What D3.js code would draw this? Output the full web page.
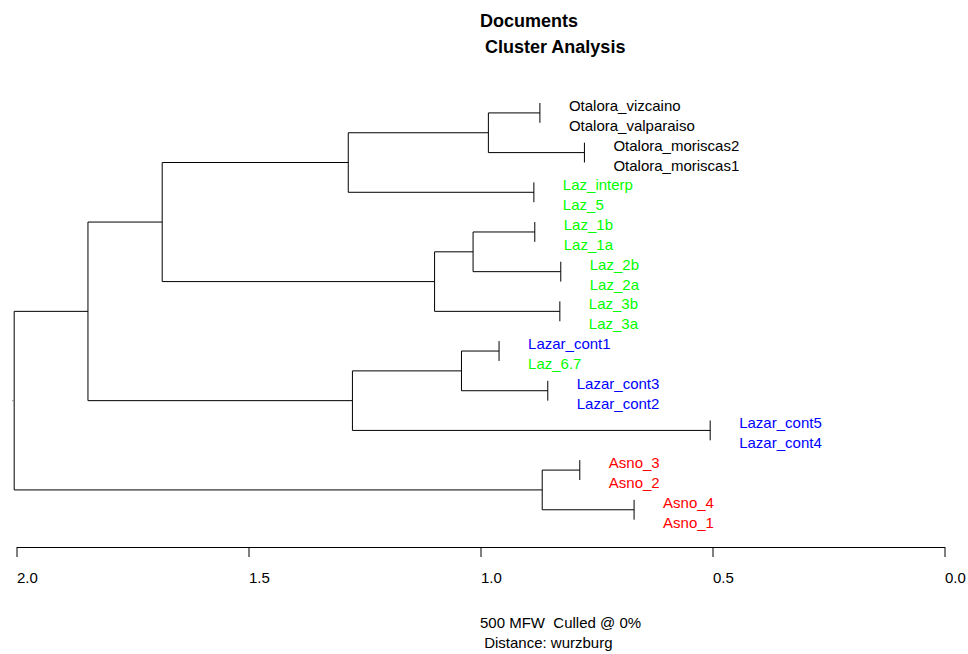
<!DOCTYPE html>
<html>
<head>
<meta charset="utf-8">
<script src="https://cdn.jsdelivr.net/npm/d3@7"></script>
<style>
  html, body { margin: 0; padding: 0; background: #fff; }
  svg { display: block; font-family: "Liberation Sans", Arial, sans-serif; }
</style>
</head>
<body>
<svg id="chart" width="968" height="654"></svg>
<script>
// ---- DATA ----
const leaves = [
  "Otalora_vizcaino", "Otalora_valparaiso", "Otalora_moriscas2", "Otalora_moriscas1",
  "Laz_interp", "Laz_5", "Laz_1b", "Laz_1a", "Laz_2b", "Laz_2a", "Laz_3b", "Laz_3a",
  "Lazar_cont1", "Laz_6.7", "Lazar_cont3", "Lazar_cont2", "Lazar_cont5", "Lazar_cont4",
  "Asno_3", "Asno_2", "Asno_4", "Asno_1"
];
const leafGroups = [
  "Otalora", "Otalora", "Otalora", "Otalora",
  "Laz", "Laz", "Laz", "Laz", "Laz", "Laz", "Laz", "Laz",
  "Lazar", "Laz", "Lazar", "Lazar", "Lazar", "Lazar",
  "Asno", "Asno", "Asno", "Asno"
];
const groupNames = ["Otalora", "Laz", "Lazar", "Asno"];
const groupColors = ["#000000", "#00ff00", "#0000ff", "#ff0000"];
// hclust-style merges: negative = leaf (1-based), positive = earlier merge row (1-based)
const mergeLeft   = [-1, -3, 1, -5, 3, -7, -9, 6, -11, 8, 5, -13, -15, 12, -17, 14, 11, -19, -21, 18, 17];
const mergeRight  = [-2, -4, 2, -6, 4, -8, -10, 7, -12, 9, 10, -14, -16, 13, -18, 15, 16, -20, -22, 19, 20];
const mergeHeight = [0.872, 0.776, 0.983, 0.885, 1.285, 0.883, 0.827, 1.016, 0.829, 1.099, 1.686,
                     0.960, 0.855, 1.041, 0.505, 1.276, 1.846, 0.786, 0.669, 0.867, 2.005];
const axisTicks = [2.0, 1.5, 1.0, 0.5, 0.0];
const titleLines = ["Documents", " Cluster Analysis"];
const subtitleLines = ["500 MFW  Culled @ 0%", " Distance: wurzburg"];

// ---- SCALES ----
const svg = d3.select("#chart");
const x = d3.scaleLinear().domain([2, 0]).range([16.5, 944.5]);
const y = d3.scaleLinear().domain([1, leaves.length]).range([103, 519.7]);
const color = d3.scaleOrdinal().domain(groupNames).range(groupColors);

// ---- BUILD TREE ----
const nodes = [];
function makeNode(ref) {
  if (ref < 0) {
    const i = -ref - 1;
    return { leaf: true, index: i, name: leaves[i], group: leafGroups[i], y: y(i + 1) };
  }
  return nodes[ref - 1];
}
for (let k = 0; k < mergeHeight.length; k++) {
  const a = makeNode(mergeLeft[k]);
  const b = makeNode(mergeRight[k]);
  const n = { leaf: false, height: mergeHeight[k], children: [a, b] };
  n.y = (a.y + b.y) / 2;
  nodes.push(n);
}
const root = d3.hierarchy(nodes[nodes.length - 1], d => d.leaf ? null : d.children);

function nodeX(d) {
  // tips sit at their parent's height (zero-length tip branches)
  if (d.data.leaf) return x(d.parent.data.height);
  return x(d.data.height);
}

const g = svg.append("g")
  .attr("fill", "none")
  .attr("stroke", "#000")
  .attr("stroke-width", 1);

// vertical connectors
g.selectAll("line.v")
  .data(root.descendants().filter(d => d.children))
  .join("line")
  .attr("class", "v")
  .attr("x1", d => x(d.data.height))
  .attr("x2", d => x(d.data.height))
  .attr("y1", d => d3.min(d.children, c => c.data.y))
  .attr("y2", d => d3.max(d.children, c => c.data.y));

// horizontal branches
g.selectAll("line.h")
  .data(root.descendants().filter(d => d.parent && !d.data.leaf))
  .join("line")
  .attr("class", "h")
  .attr("x1", d => x(d.parent.data.height))
  .attr("x2", d => x(d.data.height))
  .attr("y1", d => d.data.y)
  .attr("y2", d => d.data.y);

// short root edge
g.append("line")
  .attr("x1", x(root.data.height) - 2)
  .attr("x2", x(root.data.height))
  .attr("y1", root.data.y)
  .attr("y2", root.data.y)
  .attr("stroke", "#888");

// leaf labels
svg.append("g")
  .selectAll("text")
  .data(root.leaves())
  .join("text")
  .attr("x", d => nodeX(d) + 29)
  .attr("y", d => d.data.y + 8)
  .attr("font-size", 15)
  .attr("fill", d => color(d.data.group))
  .text(d => d.data.name);

// axis
const axis = d3.axisBottom(x)
  .tickValues(axisTicks)
  .tickFormat(d3.format(".1f"))
  .tickSize(10)
  .tickSizeOuter(0);
const ax = svg.append("g")
  .attr("transform", "translate(0,547)")
  .call(axis);
ax.select(".domain").attr("stroke", "#000");
ax.selectAll(".tick line").attr("stroke", "#000");
ax.selectAll(".tick text")
  .attr("text-anchor", "start")
  .attr("y", 36)
  .attr("dy", null)
  .attr("font-size", 15)
  .attr("font-family", "Liberation Sans, Arial, sans-serif")
  .attr("fill", "#000");

// title
svg.append("g")
  .selectAll("text")
  .data(titleLines)
  .join("text")
  .attr("x", 480)
  .attr("y", (d, i) => 27 + i * 26)
  .attr("font-size", 18)
  .attr("font-weight", "bold")
  .attr("fill", "#000")
  .style("white-space", "pre")
  .text(d => d);

// subtitle
svg.append("g")
  .selectAll("text")
  .data(subtitleLines)
  .join("text")
  .attr("x", 480)
  .attr("y", (d, i) => 628 + i * 20)
  .attr("font-size", 15)
  .attr("fill", "#000")
  .style("white-space", "pre")
  .text(d => d);
</script>
</body>
</html>
